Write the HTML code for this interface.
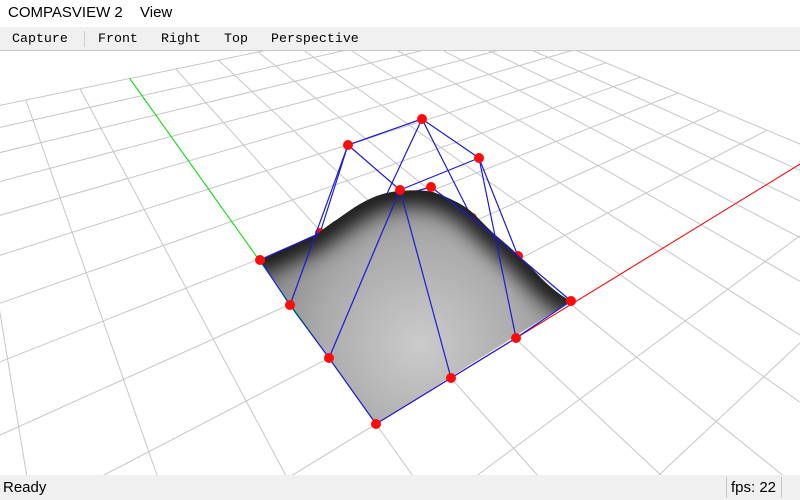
<!DOCTYPE html>
<html><head><meta charset="utf-8">
<style>
html,body{margin:0;width:800px;height:500px;overflow:hidden}
body{background:#fff;font-family:"Liberation Sans",sans-serif;position:relative}
#title{position:absolute;left:0;top:0;width:800px;height:27px;background:#fff}
.tt{position:absolute;top:4px;font-size:15px;line-height:18px;color:#000}
#toolbar{position:absolute;left:0;top:27px;width:800px;height:23px;background:#f0f0f0;border-bottom:1px solid #c8c8c8}
.tb{position:absolute;top:4px;font-family:"Liberation Mono",monospace;font-size:13.3px;line-height:16px;color:#000}
#sep1{position:absolute;left:84px;top:4px;width:1px;height:16px;background:#d0d0d0}
#view{position:absolute;left:0;top:51px;display:block;overflow:hidden}
#status{position:absolute;left:0;top:475px;width:800px;height:25px;background:#f0f0f0;overflow:hidden}
.st{position:absolute;top:4px;font-size:15px;line-height:18px;color:#000}
#sep2{position:absolute;left:726px;top:2px;width:1px;height:21px;background:#c8c8c8}
#sep3{position:absolute;left:781px;top:2px;width:1px;height:21px;background:#c8c8c8}
</style></head>
<body>
<div id="title">
 <span class="tt" style="left:8px">COMPASVIEW 2</span>
 <span class="tt" style="left:140px">View</span>
</div>
<div id="toolbar">
 <span class="tb" style="left:12px">Capture</span>
 <div id="sep1"></div>
 <span class="tb" style="left:98px">Front</span>
 <span class="tb" style="left:161px">Right</span>
 <span class="tb" style="left:224px">Top</span>
 <span class="tb" style="left:271px">Perspective</span>
</div>
<svg id="view" width="800" height="424" viewBox="0 51 800 424">
 <defs>
  <radialGradient id="shade" gradientUnits="userSpaceOnUse" cx="420" cy="345" r="230">
   <stop offset="0" stop-color="#cbcbcb"/>
   <stop offset="0.45" stop-color="#aaaaaa"/>
   <stop offset="0.8" stop-color="#7c7c7c"/>
   <stop offset="1" stop-color="#5a5a5a"/>
  </radialGradient>
  <clipPath id="surfClip"><path d="M376,424 L571,301 C563,297 553,290 540,277 C528,264 508,245 493,233 C485,225 478,218 473,213 C465,206 455,200 433,192 C425,190 412,190 400,191 C385,192 372,197 360,204 C348,211 340,218 333,222 C322,230 315,236 305,240 C290,246 275,252 260,260 Z"/></clipPath>
  <filter id="blur" x="-20%" y="-20%" width="140%" height="140%"><feGaussianBlur stdDeviation="10"/></filter>
 </defs>
 <g id="grid"></g>
 <g id="axes"></g>
 <g id="back"></g>
 <g>
  <path fill="url(#shade)" d="M376,424 L571,301 C563,297 553,290 540,277 C528,264 508,245 493,233 C485,225 478,218 473,213 C465,206 455,200 433,192 C425,190 412,190 400,191 C385,192 372,197 360,204 C348,211 340,218 333,222 C322,230 315,236 305,240 C290,246 275,252 260,260 Z"/>
  <g clip-path="url(#surfClip)">
   <path d="M250,264 C275,252 290,246 305,240 C315,236 322,230 333,222 C340,218 348,211 360,204 C372,197 385,192 400,191 C412,190 425,190 433,192 C455,200 465,206 473,213 C478,218 485,225 493,233 C508,245 528,264 540,277 C553,290 563,297 580,306" fill="none" stroke="#000" stroke-width="30" opacity="0.85" filter="url(#blur)"/>
  </g>
 </g>
 <g id="front"></g>
</svg>
<div id="status">
 <span class="st" style="left:3px">Ready</span>
 <div id="sep2"></div>
 <span class="st" style="left:731px">fps: 22</span>
 <div id="sep3"></div>
</div>
<script>
const NS='http://www.w3.org/2000/svg';
// ground grid line indices
const gridIdx=[-10,-9,-8,-7,-6,-5,-4,-3,-2,-1,0,1,2,3,4,5,6,7,8,9,10];
// control point screen positions [row][col]
const cpX=[[376,451,516,571],[329,400,479,518],[290,348,422,472],[260,320,384,431]];
const cpY=[[424,378,338,301],[358,190,158,256],[305,145,119,218],[260,233,200,187]];
const hiddenPts=[[3,1],[3,2],[2,3],[1,3]];
const backEdges=[[2,1,3,1],[2,2,3,2],[2,2,2,3],[1,2,1,3],[3,1,3,2],[3,2,3,3]];
function proj(x,y){const w=0.0833*x+0.1126*y+1;return [(112.6*x-10*y+376)/w,(-14.5*x-25.7*y+424)/w,w];}
function mk(tag,attrs,parent){const e=document.createElementNS(NS,tag);for(const k in attrs)e.setAttribute(k,attrs[k]);parent.appendChild(e);return e;}
const grid=document.getElementById('grid');
function inside(p){return p[2]>0.12&&p[0]>=-4&&p[0]<=804&&p[1]>=47&&p[1]<=479;}
function segLine(x0,y0,x1,y1){
 const n=800;let pts=[];
 for(let i=0;i<=n;i++){const t=i/n;const x=x0+(x1-x0)*t,y=y0+(y1-y0)*t;const p=proj(x,y);if(inside(p))pts.push(p[0].toFixed(1)+','+p[1].toFixed(1));}
 if(pts.length>1){const l=mk('polyline',{points:pts[0]+' '+pts[pts.length-1],fill:'none',stroke:'#c6c6c6','stroke-width':1},grid);
 
 }
}
const lo=gridIdx[0],hi=gridIdx[gridIdx.length-1];
gridIdx.forEach(i=>{segLine(i,lo,i,hi);segLine(lo,i,hi,i);});
const axes=document.getElementById('axes');
const o=proj(0,0),gx=proj(0,hi);
let rxv=0;for(let t=0;t<=hi;t+=0.01){if(inside(proj(t,0)))rxv=t;}
const rx=proj(rxv,0);
let a=mk('line',{x1:o[0],y1:o[1],x2:gx[0],y2:gx[1],stroke:'#00e000','stroke-width':1},axes);


a=mk('line',{x1:o[0],y1:o[1],x2:rx[0],y2:rx[1],stroke:'#ff0000','stroke-width':1},axes);


const back=document.getElementById('back'),front=document.getElementById('front');
function P(r,c){return [cpX[r][c],cpY[r][c]];}
function isHidden(r,c){return hiddenPts.some(h=>h[0]===r&&h[1]===c);}
function isBackEdge(r1,c1,r2,c2){return backEdges.some(e=>(e[0]===r1&&e[1]===c1&&e[2]===r2&&e[3]===c2)||(e[0]===r2&&e[1]===c2&&e[2]===r1&&e[3]===c1));}
function edge(r1,c1,r2,c2){
 const g=isBackEdge(r1,c1,r2,c2)?back:front;
 const p=P(r1,c1),q=P(r2,c2);
 const l=mk('line',{x1:p[0],y1:p[1],x2:q[0],y2:q[1],stroke:'#1a1ad8','stroke-width':1.2},g);
 
 
}
for(let r=0;r<4;r++)for(let c=0;c<4;c++){if(c<3)edge(r,c,r,c+1);if(r<3)edge(r,c,r+1,c);}
for(let r=0;r<4;r++)for(let c=0;c<4;c++){
 const g=isHidden(r,c)?back:front;const p=P(r,c);
 const d=mk('circle',{cx:p[0],cy:p[1],r:5,fill:'#ff0a0a'},g);
 
 
}
</script>
</body></html>
